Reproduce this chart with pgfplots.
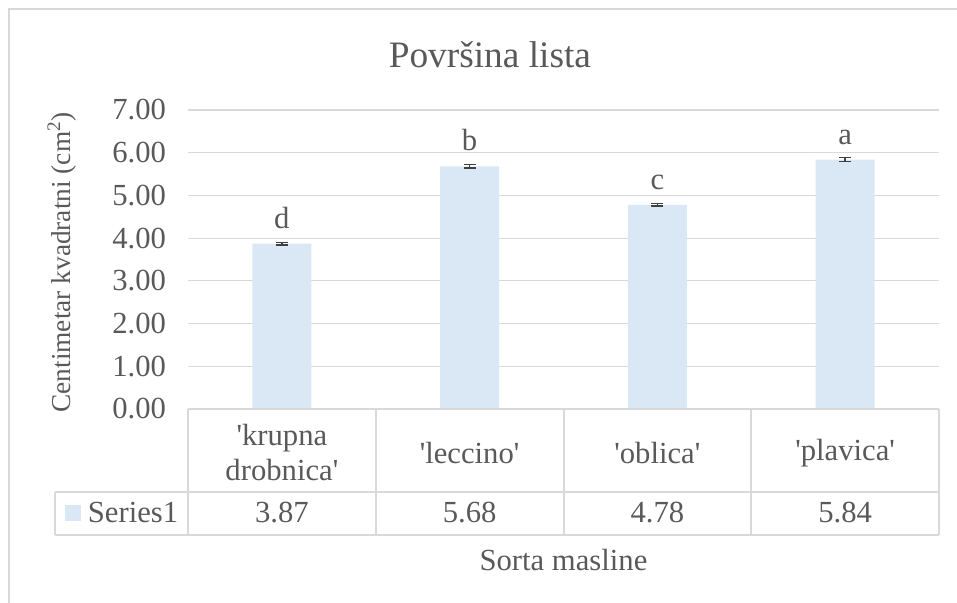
\documentclass[border=0pt]{standalone}
\usepackage{pgfplots}
\usepackage{pgfplotstable}
\pgfplotsset{compat=1.18}
\usepackage{fontspec}
\setmainfont{Liberation Serif}[Ligatures=TeXOff]
\definecolor{barblue}{RGB}{218,231,245}
\definecolor{txt}{RGB}{89,89,89}
\definecolor{gridc}{RGB}{217,217,217}
\definecolor{errc}{RGB}{64,64,64}
\newcommand{\bodyfont}{\fontsize{23}{26}\selectfont}
\pgfplotstableread{
x y e l
0 3.87 0.03 d
1 5.68 0.04 b
2 4.78 0.03 c
3 5.84 0.05 a
}\datatable
\begin{document}
\begin{tikzpicture}
\useasboundingbox (0,0) rectangle (717.75pt,452.25pt);
\draw[gridc, line width=1.2pt] (6.75pt,0) -- (6.75pt,445.5pt) -- (717.75pt,445.5pt);
\begin{axis}[
  at={(141pt,145.5pt)}, anchor=south west,
  scale only axis, width=563.25pt, height=224.25pt,
  xmin=-0.5, xmax=3.5, ymin=0, ymax=7,
  ytick={0,1,2,3,4,5,6,7},
  xtick={0,1,2,3},
  xticklabels={{'krupna\\drobnica'},{'leccino'},{'oblica'},{'plavica'}},
  axis line style={draw=none},
  major tick length=0pt,
  ymajorgrids, grid style={gridc, line width=0.9pt},
  clip=false,
  y tick label style={/pgf/number format/fixed, /pgf/number format/fixed zerofill,
    /pgf/number format/precision=2, /pgf/number format/assume math mode=true,
    font=\bodyfont, text=txt, xshift=-13pt},
  x tick label style={font=\bodyfont, text=txt, align=center, anchor=center, yshift=-32.75pt},
  ylabel={Centimetar kvadratni (cm\textsuperscript{2})},
  ylabel style={at={(axis description cs:-0.168,0.49)}, anchor=center, font=\fontsize{20.5}{24}\selectfont, text=txt},
  xlabel={Sorta masline},
  xlabel style={at={(axis description cs:0.5,-0.505)}, anchor=center, font=\bodyfont, text=txt},
  title={Površina lista},
  title style={at={(axis description cs:0.402,1.158)}, anchor=center, font=\fontsize{28}{32}\selectfont, text=txt},
  legend style={at={(axis description cs:-0.1638,-0.3478)}, anchor=west, draw=none, fill=none,
    inner sep=0pt, font=\bodyfont, text=txt, nodes={inner sep=0pt}, column sep=5pt},
]
\addplot[ybar, bar width=44.25pt, fill=barblue, draw=none,
  legend image code/.code={\fill[barblue] (0pt,-6pt) rectangle (12pt,6pt);},
  nodes near coords, point meta=explicit symbolic,
  every node near coord/.style={anchor=south, font=\bodyfont, text=txt, yshift=7.8pt},
  error bars/.cd, y dir=both, y explicit,
  error bar style={line width=1.2pt, color=errc},
  error mark options={rotate=90, mark size=4.5pt, line width=1.2pt, color=errc}]
  table[x=x, y=y, y error=e, meta=l] {\datatable};
\addlegendentry{Series1}
\addplot[draw=none, mark=none, nodes near coords, point meta=explicit symbolic,
  nodes near coords align=center,
  every node near coord/.style={anchor=center, font=\bodyfont, text=txt}, forget plot]
  table[x=x, y expr=-2.435, meta=y] {\datatable};
\end{axis}
\begin{scope}[gridc, line width=1pt]
\draw (141pt,145.5pt) -- (704.25pt,145.5pt);
\draw (41.25pt,83.25pt) -- (704.25pt,83.25pt);
\draw (41.25pt,51pt) -- (704.25pt,51pt);
\draw (41.25pt,83.25pt) -- (41.25pt,51pt);
\foreach \xx in {141,282,423,563.25,704.25} \draw (\xx pt,145.5pt) -- (\xx pt,51pt);
\end{scope}
\end{tikzpicture}
\end{document}
